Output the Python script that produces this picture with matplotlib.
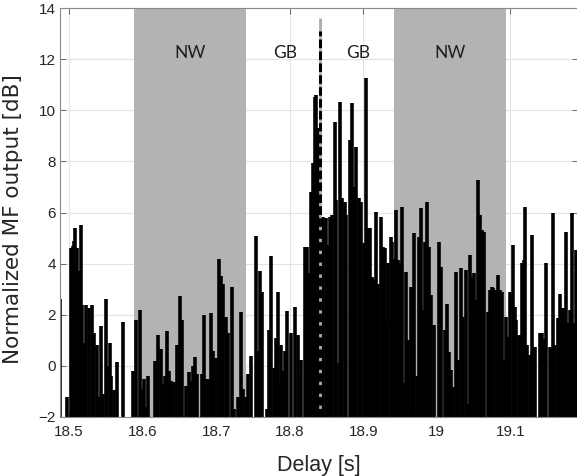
import matplotlib
matplotlib.use("Agg")
import matplotlib.pyplot as plt

# Matched-filter output samples (delay in s, level in dB); values below -2 dB fall under the axis floor
delay_s = [
    18.4880, 18.4932, 18.4977, 18.5000, 18.5023, 18.5054, 18.5068, 18.5086, 18.5113, 18.5132,
    18.5159, 18.5181, 18.5204, 18.5235, 18.5268, 18.5313, 18.5340, 18.5377, 18.5404, 18.5431,
    18.5463, 18.5499, 18.5521, 18.5554, 18.5576, 18.5608, 18.5657, 18.5680, 18.5735, 18.5758,
    18.5826, 18.5871, 18.5907,
    18.5962, 18.5984, 18.6020, 18.6048, 18.6079, 18.6112, 18.6139, 18.6166, 18.6188, 18.6215,
    18.6248, 18.6279, 18.6302, 18.6337, 18.6361, 18.6384, 18.6405, 18.6429, 18.6465, 18.6510,
    18.6533, 18.6555, 18.6588, 18.6633, 18.6664, 18.6691, 18.6714, 18.6746, 18.6769, 18.6805,
    18.6841, 18.6873, 18.6895, 18.6936,
    18.6963, 18.6996, 18.7041, 18.7068, 18.7099, 18.7132, 18.7159, 18.7190, 18.7218, 18.7245,
    18.7272, 18.7303, 18.7336, 18.7371, 18.7404, 18.7439, 18.7476, 18.7507, 18.7540, 18.7567,
    18.7599, 18.7622, 18.7644, 18.7676, 18.7698, 18.7721, 18.7752, 18.7780, 18.7807, 18.7840,
    18.7861, 18.7884, 18.7907, 18.7935, 18.7962,
    18.8020, 18.8075, 18.8111, 18.8134, 18.8156, 18.8180, 18.8201, 18.8234, 18.8261, 18.8293,
    18.8316, 18.8337, 18.8361, 18.8384, 18.8397, 18.8452, 18.8487, 18.8520, 18.8551, 18.8578,
    18.8610, 18.8633, 18.8646, 18.8687, 18.8714, 18.8746, 18.8769, 18.8814, 18.8846, 18.8873,
    18.8905, 18.8941, 18.8973, 18.9004,
    18.9023, 18.9041, 18.9064, 18.9091, 18.9122, 18.9150, 18.9177, 18.9204, 18.9235, 18.9268,
    18.9295, 18.9313, 18.9340, 18.9371, 18.9395, 18.9418, 18.9439, 18.9467, 18.9494, 18.9531,
    18.9554, 18.9585, 18.9612, 18.9644, 18.9667, 18.9690, 18.9712, 18.9735, 18.9758, 18.9780,
    18.9812, 18.9834, 18.9871, 18.9894, 18.9925, 18.9962, 18.9984, 19.0030,
    19.0057, 19.0088, 19.0111, 19.0143, 19.0170, 19.0193, 19.0224, 19.0256, 19.0293, 19.0324,
    19.0356, 19.0392, 19.0419, 19.0452, 19.0479, 19.0501, 19.0528, 19.0565, 19.0592, 19.0619,
    19.0646, 19.0669, 19.0691, 19.0724, 19.0746, 19.0769, 19.0800, 19.0827, 19.0860,
    19.0884, 19.0912, 19.0941, 19.0969, 19.1000, 19.1031, 19.1061, 19.1082, 19.1113, 19.1136,
    19.1159, 19.1181, 19.1200, 19.1227, 19.1259, 19.1290, 19.1317, 19.1340, 19.1371, 19.1399,
    19.1431, 19.1453, 19.1480, 19.1507, 19.1535, 19.1567, 19.1581, 19.1612, 19.1644, 19.1671,
    19.1703, 19.1725, 19.1752, 19.1785, 19.1807, 19.1839, 19.1861, 19.1893, 19.1915,
]

level_db = [
    2.6, -3, -1.2, -3, 4.6, 4.7, 4.9, 5.4, 4.6, 3.7,
    5.5, 2.4, 0.9, 2.4, 2.25, 2.4, 1.3, 0.8, -1.2, 1.55,
    -1.1, 2.6, 0.0, 0.9, -0.4, -0.95, 0.15, -3, 1.7, -3,
    -3, -0.2, 1.8,
    2.2, -0.9, -0.5, -1.6, -0.4, -3, -3, 0.2, -1.3, 1.2,
    0.65, -0.7, -0.4, 1.35, -0.2, -0.6, -3, -0.65, 0.8, 2.75,
    1.8, -3, -0.8, -0.25, -0.6, 0.0, 0.35, -0.3, -3, -0.3,
    2.0, -0.5, -0.5, 2.05,
    0.6, 0.3, 4.2, 3.5, 3.2, 1.9, 1.3, -3, 3.1, -1.7,
    -3, -1.2, 2.1, -0.9, -1.2, -0.3, 0.4, -3, 5.1, 0.6,
    3.7, 2.9, -3, -3, -1.7, 1.4, 4.3, -0.1, 1.1, 2.9,
    -0.7, 0.8, -0.2, 0.6, 2.15,
    1.27, 2.32, 1.2, -0.42, 0.23, -3, 4.66, 4.66, 3.62, 6.81,
    7.92, 10.53, 10.6, 9.3, -0.5, 5.84, 5.78, 4.73, 5.84, 5.9,
    9.55, 6.49, 0.1, 10.33, 6.55, 6.4, 5.9, 8.84, 10.27, 7.0,
    8.58, 6.55, 6.4, 4.8,
    2.58, 11.25, 5.38, 5.38, 3.49, 3.4, 6.03, 3.22, 5.81, 4.66,
    4.6, 1.66, 4.01, 5.05, 4.86, 4.2, 6.1, 4.14, 4.01, 6.23,
    -0.68, 3.69, 1.01, 3.1, 3.1, 5.18, -1.9, -0.4, 5.05, 6.16,
    2.18, 4.86, 6.42, 4.66, 2.77, 1.6, -3, 4.86,
    3.88, -3, 1.4, 2.44, 0.55, -0.17, -0.82, 3.69, 0.22, 3.82,
    1.92, 3.75, -1.48, 4.34, 3.49, 3.65, 2.58, 7.28, 5.9, 5.3,
    5.25, -3, 2.1, 2.97, 3.1, 3.03, 2.97, 3.56, 2.97,
    2.9, 0.22, 1.92, 1.14, 2.9, 4.73, 2.3, 1.8, 1.2, 1.2,
    4.04, 4.14, 6.2, 0.8, 0.42, 5.12, 0.75, 0.75, -3, 1.27,
    1.3, 1.07, 4.01, -3, 0.75, 0.75, 6.0, 0.8, 1.86, 2.81,
    2.25, 2.25, 5.25, 1.66, 2.18, 5.97, 1.66, 4.53, 4.47,
]

# Shaded no-signal windows and the annotated regions
nw_windows_s = [(18.589, 18.741), (18.942, 19.094)]
region_names = ["NW", "GB", "GB", "NW"]
region_centres_s = [18.665, 18.794, 18.893, 19.018]
region_label_db = 12.25

# Detected arrival marker
arrival_delay_s = 18.8415
arrival_peak_db = 13.1

xtick_values = [18.5, 18.6, 18.7, 18.8, 18.9, 19.0, 19.1]
xtick_labels = ["18.5", "18.6", "18.7", "18.8", "18.9", "19", "19.1"]
ytick_values = [-2, 0, 2, 4, 6, 8, 10, 12, 14]

x_limits = (18.4878, 19.1918)
y_limits = (-2, 14)

plt.rcParams["font.family"] = ["Liberation Sans", "DejaVu Sans"]

W, H = 577, 476
fig = plt.figure(figsize=(W / 100, H / 100), dpi=100)
ax = fig.add_axes([60 / W, (H - 417) / H, 518 / W, 409 / H])

ax.set_xlim(*x_limits)
ax.set_ylim(*y_limits)

ax.set_axisbelow(True)
ax.grid(True, color="#e3e3e3", linewidth=0.8)

for start, end in nw_windows_s:
    ax.axvspan(start, end, color="#b3b3b3", linewidth=0, zorder=1)

ax.vlines(delay_s, y_limits[0], level_db, colors="black", linewidth=2.6,
          capstyle="butt", zorder=2)

# Arrival marker: light grey guide with black dashes over it
ax.vlines(arrival_delay_s, y_limits[0], 13.6, colors="#ababab", linewidth=2.0, zorder=3)
ax.vlines(arrival_delay_s, y_limits[0], arrival_peak_db, colors="black", linewidth=2.2,
          linestyles=(0, (2.8, 1.1)), zorder=4)

for name, centre in zip(region_names, region_centres_s):
    ax.text(centre, region_label_db, name, ha="center", va="center",
            fontsize=12.5, color="#1e1e1e", family=["Lato", "DejaVu Sans"], zorder=5)

ax.set_xticks(xtick_values)
ax.set_xticklabels(xtick_labels)
ax.set_yticks(ytick_values)
ax.tick_params(direction="in", length=4, width=0.6, top=True, right=True,
               color="#555555", labelcolor="#262626", labelsize=11)
ax.tick_params(axis="x", pad=6)
ax.tick_params(axis="y", pad=3)

for side, spine in ax.spines.items():
    spine.set_color("#8a8a8a")
    spine.set_linewidth(0.8)

ax.set_xlabel("Delay [s]", fontsize=15.5, color="#262626", labelpad=11)
ax.set_ylabel("Normalized MF output [dB]", fontsize=15.5, color="#262626",
              family=["DejaVu Sans"])
ax.yaxis.set_label_coords(-0.072, 0.485)

fig.savefig("out.png", dpi=100)
